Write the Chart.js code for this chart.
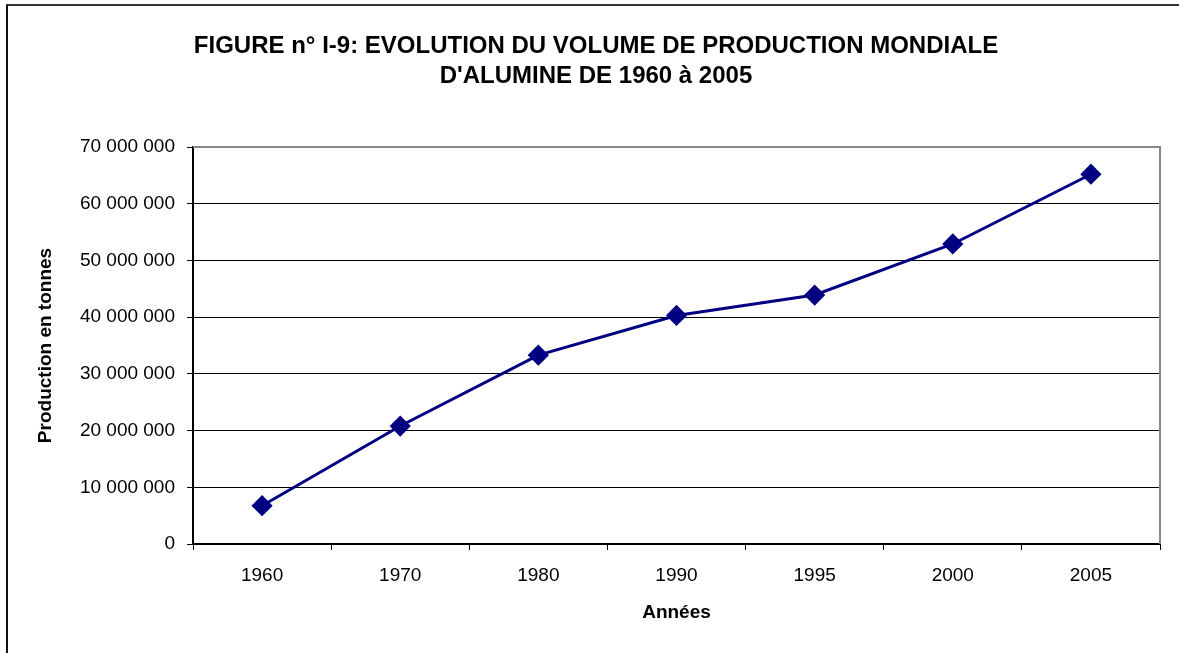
<!DOCTYPE html>
<html>
<head>
<meta charset="utf-8">
<script src="https://cdn.jsdelivr.net/npm/chart.js@4.4.1/dist/chart.umd.min.js"></script>
<style>
  body { margin: 0; background: #fff; }
  #frame {
    position: absolute; left: 6px; top: 4px; width: 1200px; height: 700px;
    border-left: 2px solid #111; border-top: 2px solid #333;
  }
  #wrap { position: absolute; left: 0; top: 0; width: 1179px; height: 653px; }
</style>
</head>
<body>
<div id="frame"></div>
<div id="wrap"><canvas id="aluminaChart"></canvas></div>
<script>
const years = ["1960", "1970", "1980", "1990", "1995", "2000", "2005"];
const production = [6750000, 20800000, 33300000, 40300000, 43900000, 52900000, 65200000];
const yTicks = [0, 10000000, 20000000, 30000000, 40000000, 50000000, 60000000, 70000000];

const fmt = (v) => String(v).replace(/\B(?=(\d{3})+(?!\d))/g, " ");
const FONT = "'Liberation Sans', Arial, sans-serif";

// gray border on top and right of the plot area, like Excel's plot frame
const plotFrame = {
  id: "plotFrame",
  beforeDatasetsDraw(chart) {
    const { ctx, chartArea: a } = chart;
    ctx.save();
    ctx.strokeStyle = "#888888";
    ctx.lineWidth = 2;
    ctx.beginPath();
    ctx.moveTo(a.left, a.top);
    ctx.lineTo(a.right, a.top);
    ctx.lineTo(a.right, a.bottom);
    ctx.stroke();
    ctx.restore();
  },
};

const ctx = document.getElementById("aluminaChart").getContext("2d");

new Chart(ctx, {
  type: "line",
  data: {
    labels: years,
    datasets: [
      {
        label: "Production",
        data: production,
        borderColor: "#000080",
        backgroundColor: "#000080",
        borderWidth: 3,
        pointStyle: "rectRot",
        pointRadius: 8.5,
        pointHoverRadius: 8.5,
        tension: 0,
      },
    ],
  },
  options: {
    responsive: true,
    maintainAspectRatio: false,
    animation: false,
    layout: { padding: { left: 32, right: 19, top: 0, bottom: 0 } },
    plugins: {
      legend: { display: false },
      tooltip: { enabled: false },
      title: {
        display: true,
        text: [
          "FIGURE n° I-9: EVOLUTION DU VOLUME DE PRODUCTION MONDIALE",
          "D'ALUMINE DE 1960 à 2005",
        ],
        color: "#000",
        font: { family: FONT, size: 24, weight: "bold", lineHeight: 1.25 },
        padding: { top: 31, bottom: 56 },
      },
    },
    scales: {
      x: {
        offset: true,
        grid: {
          offset: true,
          drawOnChartArea: false,
          drawTicks: true,
          tickLength: 6,
          color: "#000",
        },
        border: { color: "#000", width: 2 },
        ticks: {
          color: "#000",
          padding: 14,
          maxRotation: 0,
          font: { family: FONT, size: 19 },
        },
        title: {
          display: true,
          text: "Années",
          color: "#000",
          font: { family: FONT, size: 19, weight: "bold" },
          padding: { top: 0, bottom: 29 },
        },
        afterFit(scale) {
          scale.height = 109;
        },
      },
      y: {
        min: 0,
        max: 70000000,
        afterBuildTicks(scale) {
          scale.ticks = yTicks.map((v) => ({ value: v }));
        },
        grid: {
          color: "#000",
          lineWidth: 1,
          drawTicks: true,
          tickLength: 6,
        },
        border: { color: "#000", width: 2 },
        ticks: {
          color: "#000",
          padding: 12,
          font: { family: FONT, size: 19 },
          callback: (v) => fmt(v),
        },
        title: {
          display: true,
          text: "Production en tonnes",
          color: "#000",
          font: { family: FONT, size: 19, weight: "bold" },
          padding: { top: 2, bottom: 0 },
        },
        afterFit(scale) {
          scale.width = 161;
        },
      },
    },
  },
  plugins: [plotFrame],
});
</script>
</body>
</html>
